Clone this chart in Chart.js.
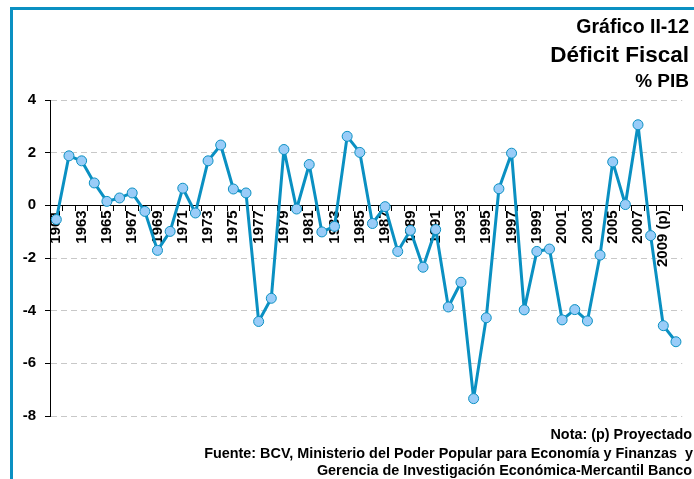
<!DOCTYPE html>
<html>
<head>
<meta charset="utf-8">
<script src="https://cdn.jsdelivr.net/npm/chart.js"></script>
<style>
  html, body { margin: 0; padding: 0; background: #fff; }
  #wrap { position: relative; width: 694px; height: 479px; overflow: hidden; background: #fff; font-family: "Liberation Sans", Arial, sans-serif; font-weight: bold; color: #000; }
  #frame { position: absolute; left: 10px; top: 7px; width: 700px; height: 500px; border-top: 3px solid #0a90c2; border-left: 3px solid #0a90c2; box-sizing: border-box; }
  .t { position: absolute; right: 5px; white-space: nowrap; line-height: 1; }
  canvas { position: absolute; left: 0; top: 0; }
</style>
</head>
<body>
<div id="wrap">
  <canvas id="c" width="694" height="479"></canvas>
  <div id="frame"></div>
  <div class="t" style="font-size:19.5px; top:17px;">Gráfico II-12</div>
  <div class="t" style="font-size:22.5px; top:44px;">Déficit Fiscal</div>
  <div class="t" style="font-size:19px; top:71px;">% PIB</div>
  <div class="t" style="font-size:14.4px; top:427px; right:2px;">Nota: (p) Proyectado</div>
  <div class="t" style="font-size:14.4px; top:445.5px; right:1px;">Fuente: BCV, Ministerio del Poder Popular para Economía y Finanzas&nbsp; y</div>
  <div class="t" style="font-size:14.4px; top:463px; right:2px;">Gerencia de Investigación Económica-Mercantil Banco</div>
</div>
<script>
const years = ["1961","1962","1963","1964","1965","1966","1967","1968","1969","1970",
  "1971","1972","1973","1974","1975","1976","1977","1978","1979","1980",
  "1981","1982","1983","1984","1985","1986","1987","1988","1989","1990",
  "1991","1992","1993","1994","1995","1996","1997","1998","1999","2000",
  "2001","2002","2003","2004","2005","2006","2007","2008","2009 (p)","2010 (p)"];
const deficit = [-0.54, 1.88, 1.69, 0.85, 0.15, 0.28, 0.47, -0.23, -1.71, -0.99,
  0.65, -0.29, 1.69, 2.29, 0.62, 0.47, -4.41, -3.53, 2.12, -0.14,
  1.55, -1.01, -0.80, 2.62, 2.01, -0.69, -0.05, -1.75, -0.95, -2.35,
  -0.92, -3.86, -2.92, -7.34, -4.27, 0.63, 1.98, -3.97, -1.75, -1.66,
  -4.35, -3.96, -4.39, -1.89, 1.65, 0.03, 3.06, -1.15, -4.57, -5.18];
const yTicks = [-8, -6, -4, -2, 0, 2, 4];

const FONT = "'Liberation Sans', Arial, sans-serif";
new Chart(document.getElementById('c'), {
  type: 'line',
  data: {
    labels: years,
    datasets: [{
      data: deficit,
      borderColor: '#0a90c2',
      borderWidth: 3,
      borderJoinStyle: 'round',
      borderCapStyle: 'round',
      pointRadius: 5,
      pointBorderWidth: 1,
      pointBorderColor: '#0a90c2',
      pointBackgroundColor: '#99ccf8',
      tension: 0,
      fill: false
    }]
  },
  options: {
    responsive: false,
    animation: false,
    layout: { padding: { top: 100, bottom: 63, left: 0, right: 2 } },
    plugins: { legend: { display: false }, tooltip: { enabled: false }, title: { display: false } },
    scales: {
      x: {
        type: 'category',
        position: { y: 0 },
        offset: true,
        grid: { display: true, drawOnChartArea: false, offset: true, tickLength: 5, tickColor: '#000', color: '#000' },
        border: { display: true, color: '#000', width: 1 },
        ticks: {
          autoSkip: false, minRotation: 90, maxRotation: 90, padding: 0,
          color: '#000', font: { family: FONT, size: 15, weight: 'bold' },
          callback: function (v, i) { return i % 2 === 0 ? this.getLabelForValue(v) : ''; }
        }
      },
      y: {
        min: -8, max: 4,
        afterBuildTicks: (s) => { s.ticks = yTicks.map(v => ({ value: v })); },
        afterFit: (s) => { s.width = 50; },
        grid: { color: '#c8c8c8', tickColor: '#000', tickLength: 5, lineWidth: 1 },
        border: { display: true, color: '#000', width: 1, dash: [6, 4] },
        ticks: { color: '#000', padding: 9, font: { family: FONT, size: 15, weight: 'bold' } }
      }
    }
  }
});
</script>
</body>
</html>
